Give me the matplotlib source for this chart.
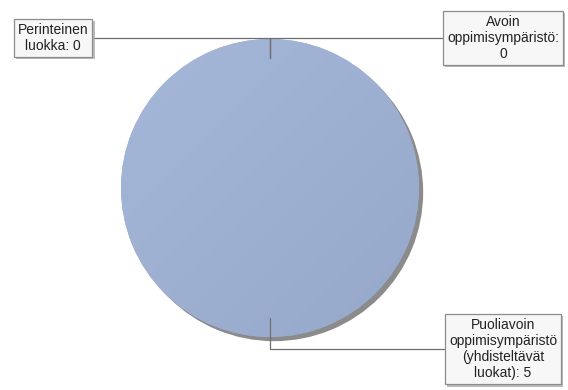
import matplotlib.pyplot as plt
import matplotlib.patheffects as pe
import numpy as np

plt.rcParams["font.family"] = ["Liberation Sans", "DejaVu Sans"]

categories = ["Perinteinen luokka", "Avoin oppimisympäristö", "Puoliavoin oppimisympäristö (yhdisteltävät luokat)"]
values = [0, 0, 5]
label_text = ["Perinteinen\nluokka: 0", "Avoin\noppimisympäristö:\n0", "Puoliavoin\noppimisympäristö\n(yhdisteltävät\nluokat): 5"]
# label box centres (pixel coords, y up)
label_pos = [(53, 352), (503, 352), (503, 41)]

fig = plt.figure(figsize=(5.68, 3.90), dpi=100)
ax = fig.add_axes([0, 0, 1, 1])

cx, cy, r = 270, 202, 149
wedges, _ = ax.pie(values, center=(cx, cy), radius=r, startangle=90, counterclock=False,
                   colors=["#9dafd2"] * 3, wedgeprops=dict(linewidth=0), frame=True)
ax.set_xlim(0, 568)
ax.set_ylim(0, 390)
ax.set_aspect("equal")
ax.axis("off")

big = wedges[2]
big.set_path_effects([pe.SimplePatchShadow(offset=(3, -3), shadow_rgbFace="#7f7f7f", alpha=0.9),
                      pe.Normal()])

# subtle diagonal gradient
gx, gy = np.meshgrid(np.linspace(0, 1, 200), np.linspace(1, 0, 200))
g = (gx + (1 - gy)) / 2
c1 = np.array([0.65, 0.72, 0.85])
c2 = np.array([0.59, 0.66, 0.79])
img = c1[None, None, :] * (1 - g[..., None]) + c2[None, None, :] * g[..., None]
im = ax.imshow(img, extent=(cx - r, cx + r, cy - r, cy + r), origin="upper", zorder=big.get_zorder() + 0.1)
im.set_clip_path(big)
ax.set_xlim(0, 568)
ax.set_ylim(0, 390)

for w, txt, pos in zip(wedges, label_text, label_pos):
    ang = np.deg2rad((w.theta1 + w.theta2) / 2)
    xy = (cx + 0.87 * r * np.cos(ang), cy + 0.87 * r * np.sin(ang))
    ann = ax.annotate(txt, xy=xy, xytext=pos, ha="center", va="center", multialignment="center",
                      fontsize=10, color="#222222", linespacing=1.2, zorder=5,
                      bbox=dict(boxstyle="square,pad=0.3", fc="#f7f7f7", ec="#8c8c8c", lw=0.9),
                      arrowprops=dict(arrowstyle="-", color="#6f6f6f", lw=0.9,
                                      connectionstyle="angle,angleA=0,angleB=90,rad=0",
                                      shrinkA=0, shrinkB=0))
    ann.get_bbox_patch().set_path_effects([pe.SimplePatchShadow(offset=(1.5, -1.5), shadow_rgbFace="#aaaaaa", alpha=0.8),
                                           pe.Normal()])

fig.savefig("out.png", dpi=100)
